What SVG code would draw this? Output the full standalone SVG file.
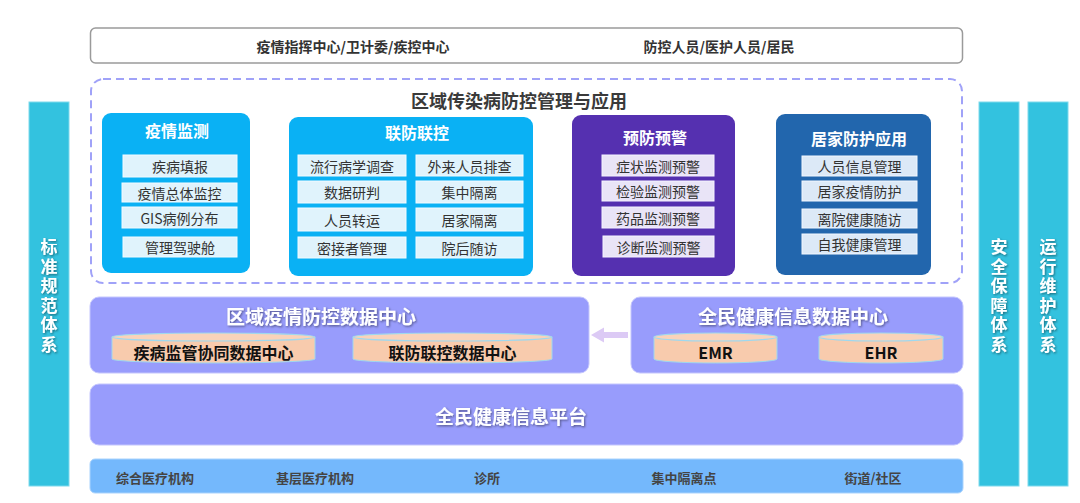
<svg xmlns="http://www.w3.org/2000/svg" width="1080" height="503" viewBox="0 0 1080 503">
<defs>
<filter id="sh" x="-20%" y="-20%" width="140%" height="140%">
<feDropShadow dx="1" dy="1.2" stdDeviation="0.8" flood-color="#000" flood-opacity="0.45"/>
</filter>
<style>
text{font-family:"Noto Sans CJK SC","Noto Sans",sans-serif;dominant-baseline:central;text-anchor:middle}
.hdr{font-size:14px;font-weight:700;fill:#333}
.ttl{font-size:18px;font-weight:700;fill:#3a3a3a}
.ct{font-size:16px;font-weight:700;fill:#fff}
.it{font-size:14px;fill:#333}
.ib{fill:#e0f3fc;stroke:#f2fbff;stroke-width:1}
.ip{fill:#e9e4f7;stroke:#f6f3ff;stroke-width:1}
.id{fill:#dce9f7;stroke:#f2f7ff;stroke-width:1}
.dc{fill:#989cfc;stroke:#c4c6fd;stroke-width:1}
.dt{font-size:19px;font-weight:700;fill:#fff;filter:url(#sh)}
.cy{fill:#f8cbad;stroke:#9fd8ee;stroke-width:1}
.cyt{fill:#f9d3ba;stroke:#9fd8ee;stroke-width:1.2}
.cyx{font-size:16px;font-weight:700;fill:#111}
.bar{fill:#33c2df;stroke:#7fd9ec;stroke-width:1}
.bt{font-size:17px;font-weight:700;fill:#fff;filter:url(#sh);writing-mode:vertical-rl;letter-spacing:2.5px}
.bot{font-size:13px;font-weight:700;fill:#444}
</style>
</defs>

<g id="top-users">
<rect x="90.5" y="28" width="872" height="35" rx="5" fill="#fff" stroke="#9a9a9a" stroke-width="1.5"/>
<text class="hdr" x="353" y="46">疫情指挥中心/卫计委/疾控中心</text>
<text class="hdr" x="719" y="46">防控人员/医护人员/居民</text>
</g>

<g id="side-left">
<rect class="bar" x="29" y="102" width="40" height="384"/>
<text class="bt" x="49" y="297">标准规范体系</text>
</g>
<g id="side-security">
<rect class="bar" x="979" y="102" width="40" height="384"/>
<text class="bt" x="999" y="297">安全保障体系</text>
</g>
<g id="side-ops">
<rect class="bar" x="1028" y="102" width="40" height="384"/>
<text class="bt" x="1048" y="297">运行维护体系</text>
</g>

<g id="app-region">
<rect x="91" y="79" width="871" height="204" rx="12" fill="none" stroke="#a0a2f8" stroke-width="2" stroke-dasharray="8 5"/>
<text class="ttl" x="519" y="100">区域传染病防控管理与应用</text>
</g>

<g id="card-monitor">
<rect x="102" y="113" width="148" height="160" rx="9" fill="#0ab1f4"/>
<text class="ct" x="177" y="130">疫情监测</text>
<rect class="ib" x="123" y="155" width="114" height="22"/><text class="it" x="180" y="166">疾病填报</text>
<rect class="ib" x="122" y="183" width="115" height="19"/><text class="it" x="179.5" y="192.5">疫情总体监控</text>
<rect class="ib" x="122" y="207" width="115" height="21"/><text class="it" x="179.5" y="217.5">GIS病例分布</text>
<rect class="ib" x="123" y="237" width="114" height="20"/><text class="it" x="180" y="247">管理驾驶舱</text>
</g>

<g id="card-joint">
<rect x="289" y="117" width="244" height="159" rx="9" fill="#0ab1f4"/>
<text class="ct" x="417" y="132">联防联控</text>
<rect class="ib" x="298" y="155" width="108" height="21"/><text class="it" x="352" y="165.5">流行病学调查</text>
<rect class="ib" x="416" y="155" width="107" height="21"/><text class="it" x="469.5" y="165.5">外来人员排查</text>
<rect class="ib" x="298" y="181" width="108" height="22"/><text class="it" x="352" y="192">数据研判</text>
<rect class="ib" x="416" y="181" width="107" height="22"/><text class="it" x="469.5" y="192">集中隔离</text>
<rect class="ib" x="298" y="208" width="108" height="23"/><text class="it" x="352" y="219.5">人员转运</text>
<rect class="ib" x="416" y="208" width="107" height="23"/><text class="it" x="469.5" y="219.5">居家隔离</text>
<rect class="ib" x="298" y="237" width="108" height="21"/><text class="it" x="352" y="247.5">密接者管理</text>
<rect class="ib" x="416" y="237" width="107" height="21"/><text class="it" x="469.5" y="247.5">院后随访</text>
</g>

<g id="card-warning">
<rect x="572" y="115" width="163" height="161" rx="9" fill="#5530b0"/>
<text class="ct" x="655" y="137">预防预警</text>
<rect class="ip" x="602" y="155" width="112" height="21"/><text class="it" x="658" y="165.5">症状监测预警</text>
<rect class="ip" x="602" y="181" width="112" height="20"/><text class="it" x="658" y="191">检验监测预警</text>
<rect class="ip" x="602" y="207" width="112" height="21"/><text class="it" x="658" y="217.5">药品监测预警</text>
<rect class="ip" x="603" y="236" width="111" height="21"/><text class="it" x="658.5" y="246.5">诊断监测预警</text>
</g>

<g id="card-home">
<rect x="776" y="114" width="155" height="161" rx="9" fill="#2266ad"/>
<text class="ct" x="859" y="138">居家防护应用</text>
<rect class="id" x="802" y="156" width="115" height="20"/><text class="it" x="859.5" y="166">人员信息管理</text>
<rect class="id" x="802" y="181" width="115" height="20"/><text class="it" x="859.5" y="191">居家疫情防护</text>
<rect class="id" x="802" y="209" width="115" height="19"/><text class="it" x="859.5" y="218.5">离院健康随访</text>
<rect class="id" x="802" y="234" width="115" height="20"/><text class="it" x="859.5" y="244">自我健康管理</text>
</g>

<g id="dc-regional">
<rect class="dc" x="90" y="297" width="499" height="76" rx="9"/>
<text class="dt" x="321" y="315">区域疫情防控数据中心</text>
<path class="cy" d="M112 337 L112 359 A101.5 4 0 0 0 315 359 L315 337 Z"/>
<ellipse class="cyt" cx="213.5" cy="337" rx="101.5" ry="4"/>
<text class="cyx" x="213.5" y="352">疾病监管协同数据中心</text>
<path class="cy" d="M353 337 L353 359 A99.5 4 0 0 0 552 359 L552 337 Z"/>
<ellipse class="cyt" cx="452.5" cy="337" rx="99.5" ry="4"/>
<text class="cyx" x="452.5" y="352">联防联控数据中心</text>
</g>

<g id="dc-health">
<rect class="dc" x="631" y="297" width="332" height="76" rx="9"/>
<text class="dt" x="793" y="315">全民健康信息数据中心</text>
<path class="cy" d="M654 337 L654 359 A61.5 4 0 0 0 777 359 L777 337 Z"/>
<ellipse class="cyt" cx="715.5" cy="337" rx="61.5" ry="4"/>
<text class="cyx" x="715.5" y="352">EMR</text>
<path class="cy" d="M819 337 L819 359 A62 4 0 0 0 943 359 L943 337 Z"/>
<ellipse class="cyt" cx="881" cy="337" rx="62" ry="4"/>
<text class="cyx" x="881" y="352">EHR</text>
</g>

<g id="connectors">
<polygon points="591,335 604,327.5 604,332 628,332 628,338 604,338 604,342.5" fill="#dccaf5"/>
</g>

<g id="platform">
<rect class="dc" x="90" y="384" width="873" height="61" rx="9"/>
<text class="dt" x="511" y="415">全民健康信息平台</text>
</g>

<g id="institutions">
<rect x="90" y="459" width="873" height="34" rx="5" fill="#74b8fc" stroke="#a9d3fd" stroke-width="1"/>
<text class="bot" x="155" y="477">综合医疗机构</text>
<text class="bot" x="315" y="477">基层医疗机构</text>
<text class="bot" x="487" y="477">诊所</text>
<text class="bot" x="684" y="477">集中隔离点</text>
<text class="bot" x="873" y="477">街道/社区</text>
</g>
</svg>
